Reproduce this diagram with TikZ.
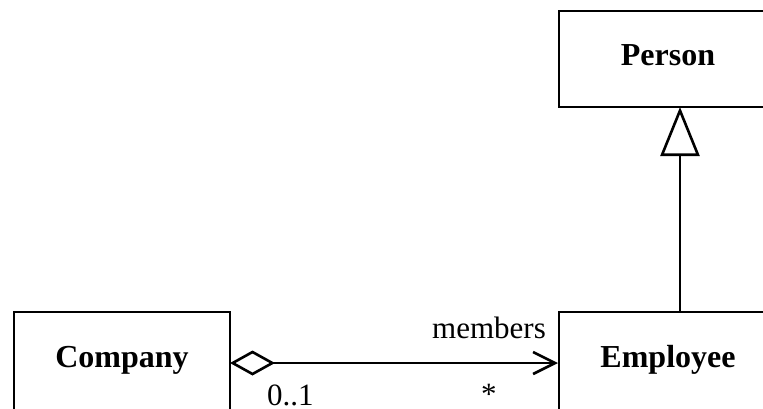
\documentclass[tikz,border=0pt]{standalone}
\usepackage{fontspec}
\setmainfont{Liberation Serif}
\usetikzlibrary{arrows.meta}
\begin{document}
\begin{tikzpicture}[x=1pt, y=-1pt,
  umlclass/.style={draw, line width=2.6pt, minimum width=218pt, minimum height=96pt,
    font=\fontsize{32}{36}\selectfont\bfseries, text height=22pt, text depth=9pt},
  lowclass/.style={umlclass, minimum height=112pt, text depth=24pt},
  link/.style={line width=2.6pt},
  lbl/.style={font=\fontsize{31}{36}\selectfont, inner sep=0pt}]
  \clip (0,0) rectangle (763,408);
  \useasboundingbox (0,0) rectangle (763,408);

  % classes
  \node[umlclass] (person)   at (668,59)  {Person};
  \node[lowclass, minimum width=216pt] (company)  at (122,368) {Company};
  \node[lowclass] (employee) at (668,368) {Employee};

  % generalization: Employee is a Person
  \coordinate (genfoot) at (680,312);
  \coordinate (genhead) at (680,107);
  \draw[link, -{Triangle[open, length=49pt, width=39pt, line width=2.6pt]}]
    (genfoot) -- (genhead);

  % aggregation with navigable end
  \coordinate (aggfrom) at (230,363);
  \coordinate (aggto)   at (558,363);
  \draw[link, {Diamond[open, length=45pt, width=25pt, line width=2.6pt]}-{Straight Barb[length=22pt, width=22pt, line width=2.6pt]}]
    (aggfrom) -- (aggto);

  % association end labels
  \node[lbl, anchor=base west] (role)  at (432,338) {members};
  \node[lbl, anchor=base west] (mult1) at (267,405) {0..1};
  \node[lbl, anchor=base west] (multn) at (481,404) {*};
\end{tikzpicture}
\end{document}
